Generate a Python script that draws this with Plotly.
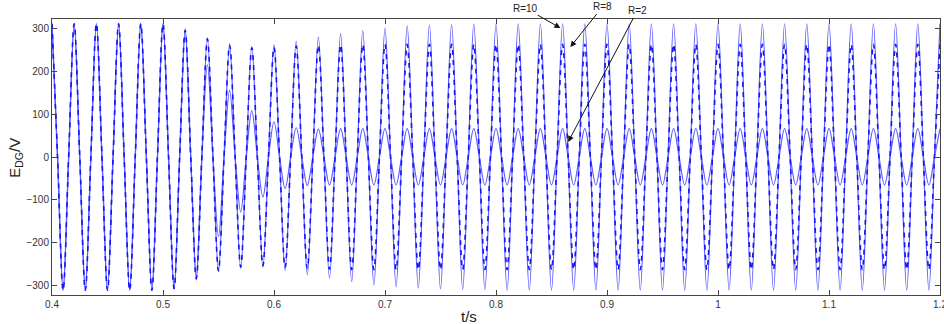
import numpy as np
import plotly.graph_objects as go

# Extreme (peak / trough) times of the 50 Hz waveform, every half cycle
t_start, half_period, n_ext = 0.40, 0.01, 81
t_ext = np.round(t_start + half_period * np.arange(n_ext), 4)

# Peak / trough values (one per half cycle)
r10_ext = [310, -310, 310, -310, 310, -310, 310, -310, 310, -310,
           310, -308, 298, -286, 277, -266, 263, -259, 257, -256,
           261, -264, 269, -274, 279, -282, 287, -290, 294, -298,
           300, -302, 305, -305, 307, -307, 308, -308, 309, -309,
           310, -310, 310, -310, 310, -310, 310, -310, 310, -310,
           310, -310, 310, -310, 310, -310, 310, -310, 310, -310,
           310, -310, 310, -310, 310, -310, 310, -310, 310, -310,
           310, -310, 310, -310, 310, -310, 310, -310, 310, -310,
           310]
r8_ext = [310, -310, 310, -310, 310, -310, 310, -310, 310, -310,
          310, -306, 295, -283, 275, -265, 260, -256, 254, -253,
          255, -257, 258, -259, 260, -261, 261, -262, 262, -262,
          262, -262, 262, -262, 262, -262, 262, -262, 262, -262,
          262, -262, 262, -262, 262, -262, 262, -262, 262, -262,
          262, -262, 262, -262, 262, -262, 262, -262, 262, -262,
          262, -262, 262, -262, 262, -262, 262, -262, 262, -262,
          262, -262, 262, -262, 262, -262, 262, -262, 262, -262,
          262]
r2_ext = [310, -310, 310, -310, 310, -310, 310, -310, 310, -310,
          310, -305, 292, -276, 215, -185, 155, -128, 108, -93,
          82, -73, 68, -66, 65, -65, 66, -65, 66, -65,
          66, -65, 66, -65, 66, -65, 66, -65, 66, -65,
          66, -65, 66, -65, 66, -65, 66, -65, 66, -65,
          66, -65, 66, -65, 66, -65, 66, -65, 66, -65,
          66, -65, 66, -65, 66, -65, 66, -65, 66, -65,
          66, -65, 66, -65, 66, -65, 66, -65, 66, -65,
          66]

x_ticks = [0.4, 0.5, 0.6, 0.7, 0.8, 0.9, 1.0, 1.1, 1.2]
x_ticklabels = ["0.4", "0.5", "0.6", "0.7", "0.8", "0.9", "1", "1.1", "1.2"]
y_ticks = [-300, -200, -100, 0, 100, 200, 300]


def waveform(ext):
    """Interleave the read extremes with the zero crossings between them."""
    xs, ys = [], []
    for i, (t, v) in enumerate(zip(t_ext, ext)):
        xs.append(t)
        ys.append(v)
        if i < len(ext) - 1:
            xs.append((t + t_ext[i + 1]) / 2)
            ys.append(0)
    return xs, ys


fig = go.Figure()
light = "#5c5cff"
dark = "#1414ff"

x10, y10 = waveform(r10_ext)
x2, y2 = waveform(r2_ext)
x8, y8 = waveform(r8_ext)

fig.add_trace(go.Scatter(x=x10, y=y10, mode="lines", name="R=10",
                         line=dict(color=light, width=1.2, shape="spline")))
fig.add_trace(go.Scatter(x=x2, y=y2, mode="lines", name="R=2",
                         line=dict(color=light, width=1.2, shape="spline")))
fig.add_trace(go.Scatter(x=x8, y=y8, mode="lines", name="R=8",
                         line=dict(color=dark, width=1.6, shape="spline",
                                   dash="5px,5px")))

FONT = "Liberation Sans, Arial, sans-serif"
ann_font = dict(family=FONT, size=10, color="#222")
for txt, hx, hy, ax, ay in [("R=10", 0.858, 300, -35, -20),
                            ("R=8", 0.867, 256, 32, -40),
                            ("R=2", 0.865, 35, 69, -131)]:
    fig.add_annotation(x=hx, y=hy, xref="x", yref="y", text=txt,
                       showarrow=True, arrowhead=2, arrowsize=1.2,
                       arrowwidth=1, arrowcolor="#111", ax=ax, ay=ay,
                       font=ann_font)

# Axis titles placed as annotations for exact positioning
fig.add_annotation(text="t/s", xref="paper", yref="paper", x=0.47, y=-0.077,
                   xanchor="center", yanchor="middle", showarrow=False,
                   font=dict(family=FONT, size=15, color="#222"))
fig.add_annotation(text="E<sub>DG</sub>/V", xref="paper", yref="paper",
                   x=-0.042, y=0.496, xanchor="center", yanchor="middle",
                   textangle=-90, showarrow=False,
                   font=dict(family=FONT, size=15, color="#222"))

axis_common = dict(showline=True, linecolor="#444", linewidth=1, mirror="ticks",
                   ticks="inside", ticklen=5, tickcolor="#444", showgrid=False,
                   zeroline=False, automargin=False, ticklabeloverflow="allow",
                   tickfont=dict(family=FONT, size=10, color="#333"))

fig.update_layout(
    width=944, height=324,
    margin=dict(l=52, r=4, t=19, b=29),
    paper_bgcolor="white", plot_bgcolor="white",
    showlegend=False,
    xaxis=dict(range=[0.4, 1.2], tickvals=x_ticks, ticktext=x_ticklabels,
               **axis_common),
    yaxis=dict(range=[-321, 321], tickvals=y_ticks, **axis_common),
)

fig.write_html("out.html",
               config={"displayModeBar": False},
               post_script="document.body.style.margin='0';")
